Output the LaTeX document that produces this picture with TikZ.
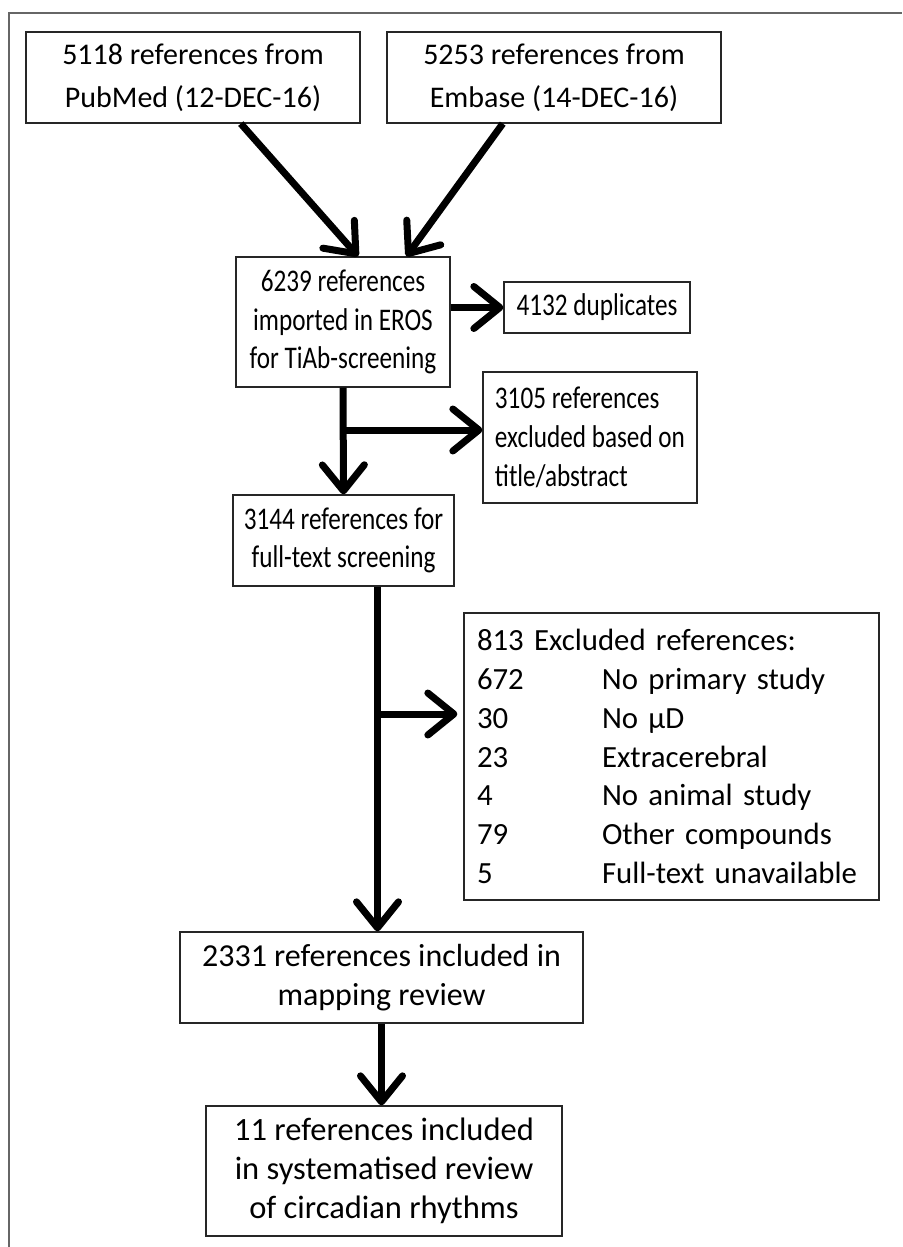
\documentclass[tikz,border=0pt]{standalone}
\usepackage{fontspec}
\setmainfont{Carlito}
\newfontfamily\condensedfont[FakeStretch=0.8]{Carlito}
\usepackage{tikz}
\usetikzlibrary{
	positioning,
	arrows.meta
}

\begin{document}
\begin{tikzpicture}[
	x=1pt, y=-1pt,
	box/.style={draw=black!85, line width=1.3pt, inner sep=0pt, align=center,
		font=\fontsize{31.5}{38.7}\selectfont},
	narrowbox/.style={box, font=\condensedfont\fontsize{31.5}{38.7}\selectfont},
	topbox/.style={box, minimum width=334pt, minimum height=91pt,
		font=\fontsize{30}{43}\selectfont},
	flow/.style={line width=7pt, -{Straight Barb[length=26pt,width=42pt,round]}}
]
	\useasboundingbox (0,0) rectangle (902,1247);
	\draw[black!60, line width=2pt] (9,1247) -- (9,13) -- (902,13);

	\draw
		node [topbox] at (193,77.5)   (pubmed)   {5118 references from\\PubMed (12-DEC-16)}
		node [topbox] at (554,77.5)   (embase)   {5253 references from\\Embase (14-DEC-16)}
		node [narrowbox,minimum width=214pt,minimum height=130pt] at (343,322) (imported)
			{6239 references\\imported in EROS\\for TiAb-screening}
		node [narrowbox,minimum width=186pt,minimum height=51pt] at (597,307.5) (dup) {4132 duplicates}
		node [narrowbox,align=left,minimum width=214pt,minimum height=131pt] at (590,437.5) (excl1)
			{3105 references\\excluded based on\\title/abstract}
		node [narrowbox,minimum width=221pt,minimum height=91pt] at (343.5,540.5) (screen)
			{3144 references for\\full-text screening}
		node [box,align=left,text width=389pt,inner xsep=13pt,minimum height=287pt,
			font=\fontsize{30.8}{38.7}\selectfont]
			at (671.5,756.5) (excl2)
			{813 Excluded references:\\
			\makebox[125pt][l]{672}No primary study\\
			\makebox[125pt][l]{30}No µD\\
			\makebox[125pt][l]{23}Extracerebral\\
			\makebox[125pt][l]{4}No animal study\\
			\makebox[125pt][l]{79}Other compounds\\
			\makebox[125pt][l]{5}Full-text unavailable}
		node [box,minimum width=403pt,minimum height=91pt,font=\fontsize{32}{38.7}\selectfont]
			at (381.5,977.5) (incl)
			{2331 references included in\\mapping review}
		node [box,minimum width=356pt,minimum height=130pt,font=\fontsize{32.5}{38.7}\selectfont]
			at (384,1171) (final)
			{11 references included\\in systematised review\\of circadian rhythms}
	;

	\coordinate (b1) at (343,430);
	\coordinate (t2) at ([xshift=34pt]screen.south);
	\coordinate (b2) at (377,714);

	\draw
		(pubmed.-44) edge[flow] (imported.77)
		(embase.-138) edge[flow] (imported.46)
		(imported.east |- dup.west) edge[flow] (dup.west)
		(imported.south) edge[flow] (screen.north)
		(b1) edge[flow] (b1 -| excl1.west)
		(t2) edge[flow] (t2 |- incl.north)
		(b2) edge[flow,shorten >=6pt] (b2 -| excl2.west)
		(incl.south) edge[flow] (incl.south |- final.north)
	;
\end{tikzpicture}
\end{document}
